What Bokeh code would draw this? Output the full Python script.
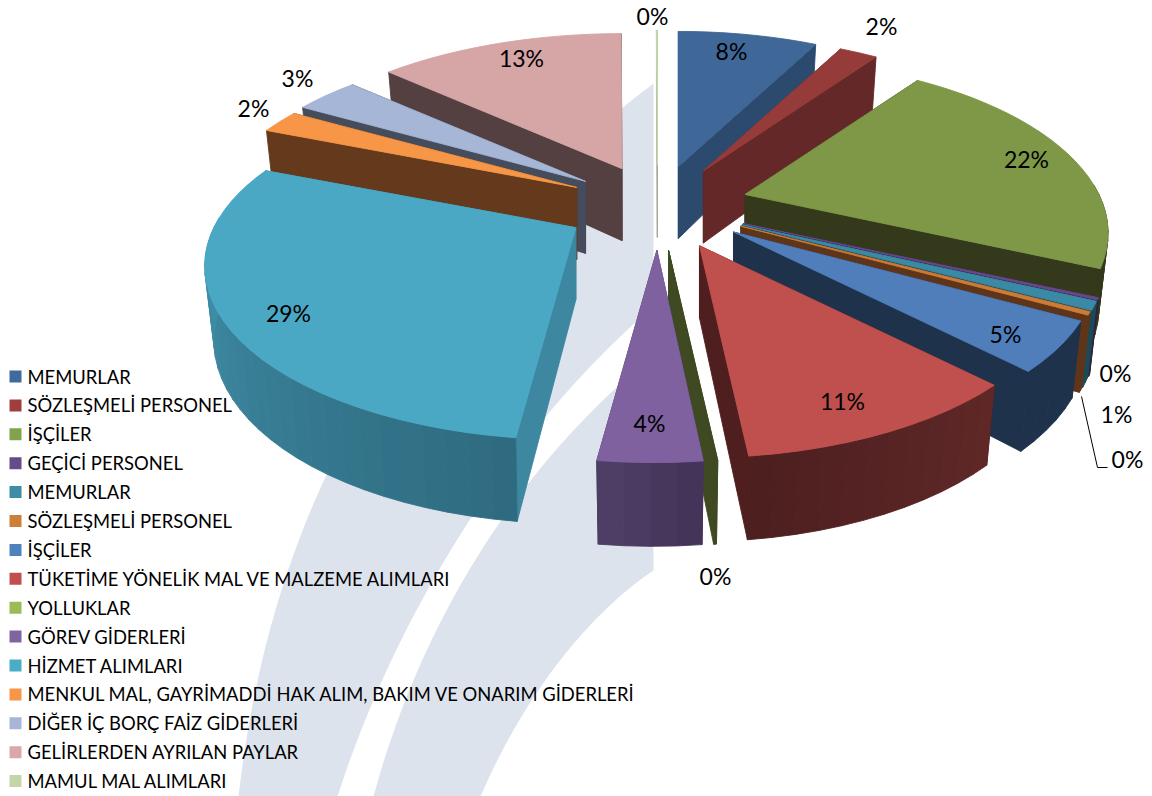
import numpy as np
from bokeh.core.properties import value
from bokeh.embed import file_html
from bokeh.models import ColumnDataSource
from bokeh.plotting import figure
from bokeh.resources import INLINE

# Budget shares in percent, clockwise from twelve o'clock
categories = ["MEMURLAR", "SÖZLEŞMELİ PERSONEL", "İŞÇİLER", "GEÇİCİ PERSONEL", "MEMURLAR",
              "SÖZLEŞMELİ PERSONEL", "İŞÇİLER", "TÜKETİME YÖNELİK MAL VE MALZEME ALIMLARI",
              "YOLLUKLAR", "GÖREV GİDERLERİ", "HİZMET ALIMLARI",
              "MENKUL MAL, GAYRİMADDİ HAK ALIM, BAKIM VE ONARIM GİDERLERİ",
              "DİĞER İÇ BORÇ FAİZ GİDERLERİ", "GELİRLERDEN AYRILAN PAYLAR", "MAMUL MAL ALIMLARI"]
shares = [7.7, 2.1, 21.9, 0.2, 0.8, 0.3, 4.6, 10.55, 0.1, 3.7, 29.15, 2.2, 3.45, 13.2, 0.05]

# Colours per slice: top face, legend key, cut faces, outer rim at both ends of the arc
top_colors = ["#3f6797", "#953c3b", "#7e9847", "#67498c", "#3a8aa5", "#cc7b38", "#4f7ebb", "#bf504e",
              "#3f4a22", "#7f619f", "#4aa8c4", "#f79646", "#a6b6d6", "#d6a5a5", "#c6d8ae"]
key_colors = ["#3f6a9e", "#a03e3e", "#83a34a", "#664a8b", "#3c8da5", "#ce7e39", "#4f81bd", "#c0504d",
              "#9bbb59", "#8064a2", "#4bacc6", "#f79646", "#a7b6d6", "#dba8a8", "#c4d6a8"]
face_colors = ["#2c4a6e", "#652828", "#34391c", "#2f2440", "#1d4a55", "#5f3519", "#1e324c", "#4f1e1e",
               "#3f4a22", "#4a3a60", "#3d87a0", "#64391c", "#454c5c", "#544040", "#a5a89c"]
rim_from = ["#2c4a6e", "#652828", "#34391c", "#2f2440", "#1d4a55", "#5f3519", "#1e324c", "#5f2827",
            "#3f4a22", "#44345a", "#2f6b80", "#64391c", "#454c5c", "#544040", "#a5a89c"]
rim_to = ["#2c4a6e", "#652828", "#34391c", "#2f2440", "#1d4a55", "#5f3519", "#1e324c", "#4d1f1f",
          "#3f4a22", "#4e3d64", "#449ab4", "#64391c", "#454c5c", "#544040", "#a5a89c"]

# Percent label anchors on the page, same order as the shares
label_x = [731, 881, 1026, 1115, 1116, 1127, 1005, 842, 715, 649, 288, 253, 297, 521, 652]
label_y = [50, 25, 158, 372, 413, 458, 333, 400, 575, 422, 312, 107, 77, 57, 15]

# Painter's order: far slices first, the front ones last
draw_order = [14, 0, 1, 2, 3, 4, 5, 6, 7, 13, 12, 11, 10, 8, 9]

CX, CY = 657, 205
RADIUS, EXPLODE = 358, 92
TILT, PERSPECTIVE = 0.461, 0.222
WALL, WALL_PERSPECTIVE = 72, 0.14
WALL_NARROW = 0.975
RIM_SKEW = -4


def offset(r, theta):
    """Perspective projection of a polar point on the tilted pie plane."""
    c = np.cos(theta)
    f = 1 / (1 + PERSPECTIVE * (r / RADIUS) * c)
    return r * np.sin(theta) * f, -r * TILT * c * f


def skew(theta):
    """Slight sideways drift of the near half of the rim, fading towards the far edge."""
    return RIM_SKEW * np.where(np.cos(theta) <= 0, 1.0, np.abs(np.sin(theta)))


def wall_height(theta):
    return WALL / (1 + WALL_PERSPECTIVE * np.cos(theta))


def mix(a, b, t):
    ca = [int(a[i:i + 2], 16) for i in (1, 3, 5)]
    cb = [int(b[i:i + 2], 16) for i in (1, 3, 5)]
    return "#%02x%02x%02x" % tuple(int(round(u + (v - u) * t)) for u, v in zip(ca, cb))


edges = np.concatenate([[0], np.cumsum(shares)]) / sum(shares) * 2 * np.pi
xs, ys, fills = [], [], []


def add(px, py, color):
    xs.append(list(map(float, px)))
    ys.append(list(map(float, py)))
    fills.append(color)


for i in draw_order:
    a0, a1 = edges[i], edges[i + 1]
    mid = (a0 + a1) / 2
    dx, dy = offset(EXPLODE, mid)
    ax, ay = CX + dx, CY + dy
    steps = max(2, int(np.degrees(a1 - a0) / 3))
    th = np.linspace(a0, a1, steps + 1)
    ox, oy = offset(RADIUS, th)
    rx, ry = ax + ox + skew(th), ay + oy
    bx, by = ax + ox * WALL_NARROW + skew(th), ay + oy + wall_height(th)
    # Cut faces, then the rim in shaded strips where it faces the viewer, then the top face
    for k in (0, -1):
        add([ax, rx[k], bx[k], ax], [ay, ry[k], by[k], ay + WALL], face_colors[i])
    for k in range(steps):
        if np.cos(th[k]) < 0.05 or np.cos(th[k + 1]) < 0.05:
            shade = mix(rim_from[i], rim_to[i], k / max(1, steps - 1))
            add([rx[k], rx[k + 1], bx[k + 1], bx[k]], [ry[k], ry[k + 1], by[k + 1], by[k]], shade)
    add(np.concatenate([[ax], rx]), np.concatenate([[ay], ry]), top_colors[i])

p = figure(width=1152, height=796, x_range=(0, 1152), y_range=(796, 0), toolbar_location=None,
           output_backend="svg", min_border=0, outline_line_color=None, background_fill_color="white")
p.axis.visible = False
p.grid.visible = False


def curve(p0, p1, p2, p3, n=40):
    t = np.linspace(0, 1, n)[:, None]
    pts = (1 - t) ** 3 * np.array(p0) + 3 * (1 - t) ** 2 * t * np.array(p1) \
        + 3 * (1 - t) * t ** 2 * np.array(p2) + t ** 3 * np.array(p3)
    return pts


# Pale swooshes behind the pie, cut off by a straight vertical edge
band_a = np.vstack([curve((238, 796), (262, 590), (340, 320), (653, 83)),
                    [(653, 306)],
                    curve((653, 306), (520, 420), (400, 600), (337, 796))])
band_b = np.vstack([curve((373, 796), (415, 640), (505, 475), (653, 355)),
                    [(653, 570)],
                    curve((653, 570), (600, 605), (530, 680), (480, 796))])
p.patches([list(band_a[:, 0]), list(band_b[:, 0])], [list(band_a[:, 1]), list(band_b[:, 1])],
          fill_color="#dde3ed", line_color=None)

p.patches("xs", "ys", fill_color="fill", line_color="fill", line_width=0.9,
          source=ColumnDataSource(dict(xs=xs, ys=ys, fill=fills)))

# Leader line of the small slice on the right
p.line([1081, 1097, 1107], [396, 467, 467], line_color="black", line_width=1)

font = value("Lato")
p.text(label_x, label_y, text=[f"{round(s)}%" for s in shares], text_font=font,
       text_font_size="23px", text_align="center", text_baseline="middle", text_color="black")

key_y = [376 + i * 28.9 for i in range(len(categories))]
p.rect([15] * len(categories), key_y, width=12, height=12, fill_color=key_colors, line_color=None)
p.text([27] * len(categories), key_y, text=categories, text_font=font, text_font_size="18.4px",
       text_align="left", text_baseline="middle", text_color="black")

open("out.html", "w").write(file_html(p, INLINE))
